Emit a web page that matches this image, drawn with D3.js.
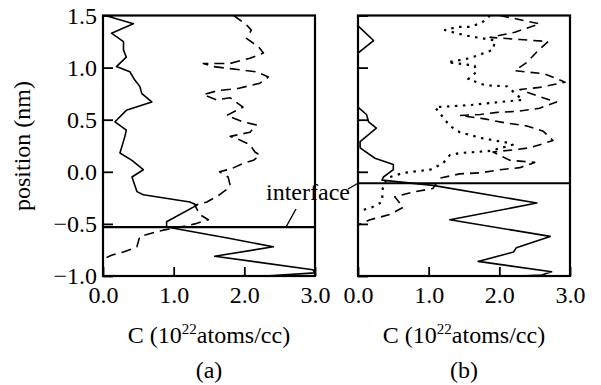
<!DOCTYPE html>
<html>
<head>
<meta charset="utf-8">
<script src="https://cdn.jsdelivr.net/npm/d3@7"></script>
<style>
  html, body { margin: 0; padding: 0; background: #fff; }
  svg text { font-family: "Liberation Serif", "Times New Roman", serif; fill: #000; }
</style>
</head>
<body>
<div id="chart"></div>
<script>
// Carbon concentration profiles across the interface, two cases side by side.
// Each series is [C (1e22 atoms/cc), position (nm)], read top to bottom.

const xTicks = [0, 1, 2, 3];
const yTicks = [-1, -0.5, 0, 0.5, 1, 1.5];
const panelLabels = ["(a)", "(b)"];
const interfaceA = -0.53;
const interfaceB = -0.11;

const aSolid = [
  [0.03, 1.50], [0.43, 1.42], [0.12, 1.33], [0.29, 1.25], [0.29, 1.17], [0.33, 1.10],
  [0.19, 1.01], [0.38, 0.96], [0.45, 0.88], [0.52, 0.82], [0.55, 0.75], [0.69, 0.67],
  [0.33, 0.59], [0.17, 0.48], [0.33, 0.40], [0.31, 0.34], [0.24, 0.18], [0.41, 0.11],
  [0.57, 0.02], [0.41, -0.05], [0.48, -0.19], [0.57, -0.22], [1.23, -0.29], [1.33, -0.32],
  [0.90, -0.48], [0.90, -0.53], [1.80, -0.64], [2.41, -0.72], [1.58, -0.81], [2.97, -0.94],
  [3.00, -0.97], [2.30, -1.00]
];
const aDashed = [
  [1.85, 1.50], [2.03, 1.41], [2.10, 1.36], [2.03, 1.28], [2.20, 1.20], [2.27, 1.14],
  [2.08, 1.09], [1.80, 1.04], [1.42, 1.04], [1.56, 1.01], [1.80, 0.99], [2.17, 0.96],
  [2.34, 0.91], [2.22, 0.85], [1.91, 0.80], [1.63, 0.78], [1.42, 0.74], [1.61, 0.69],
  [1.80, 0.71], [1.98, 0.62], [1.75, 0.54], [1.98, 0.48], [2.17, 0.45], [2.08, 0.38],
  [1.80, 0.34], [1.89, 0.32], [2.08, 0.26], [2.15, 0.19], [2.22, 0.16], [2.13, 0.11],
  [1.98, 0.08], [1.82, 0.03], [1.65, 0.00], [1.77, -0.05], [1.80, -0.13], [1.75, -0.17],
  [1.65, -0.22], [1.47, -0.29], [1.30, -0.32], [1.37, -0.41], [1.49, -0.46], [1.30, -0.50],
  [1.09, -0.53], [0.85, -0.56], [0.52, -0.62], [0.48, -0.72], [0.29, -0.77], [0.12, -0.80],
  [0.00, -0.84]
];

const bSolid = [
  [0.00, 1.50], [0.00, 1.40], [0.22, 1.26], [0.00, 1.14], [0.00, 0.62], [0.12, 0.55],
  [0.15, 0.48], [0.26, 0.42], [0.03, 0.29], [0.03, 0.23], [0.24, 0.13], [0.50, 0.07],
  [0.50, 0.02], [0.36, -0.05], [0.34, -0.08], [1.06, -0.13], [2.53, -0.30], [1.30, -0.46],
  [2.72, -0.62], [2.24, -0.73], [2.20, -0.77], [1.70, -0.86], [2.74, -0.96], [2.60, -0.99],
  [2.30, -1.00]
];
const bDashed = [
  [2.01, 1.50], [2.57, 1.42], [2.22, 1.34], [1.87, 1.29], [2.29, 1.27], [2.69, 1.25],
  [2.53, 1.15], [2.39, 1.05], [2.22, 0.97], [2.64, 0.94], [2.93, 0.86], [2.57, 0.81],
  [2.29, 0.79], [2.53, 0.73], [2.81, 0.67], [2.57, 0.61], [2.26, 0.58], [1.97, 0.57],
  [1.73, 0.55], [1.44, 0.54], [1.77, 0.51], [2.08, 0.47], [2.39, 0.44], [2.62, 0.39],
  [2.76, 0.30], [2.43, 0.23], [2.19, 0.21], [1.91, 0.19], [2.15, 0.11], [2.50, 0.09],
  [2.29, 0.04], [2.01, 0.02], [1.73, -0.01], [1.44, -0.02], [1.16, -0.06], [1.06, -0.16],
  [0.81, -0.19], [0.52, -0.24], [0.64, -0.34], [0.45, -0.41], [0.17, -0.46], [0.00, -0.51]
];
const bDotted = [
  [1.87, 1.50], [1.75, 1.43], [1.58, 1.39], [1.40, 1.39], [1.23, 1.36], [1.51, 1.31],
  [1.94, 1.26], [1.91, 1.17], [1.58, 1.09], [1.27, 1.05], [1.65, 1.02], [1.68, 0.96],
  [1.56, 0.89], [1.80, 0.83], [2.11, 0.82], [2.33, 0.69], [2.01, 0.67], [1.58, 0.64],
  [1.09, 0.62], [1.30, 0.44], [1.44, 0.38], [1.77, 0.32], [2.11, 0.28], [2.19, 0.26],
  [1.87, 0.20], [1.44, 0.18], [1.30, 0.16], [1.20, 0.08], [1.02, 0.02], [0.64, -0.01],
  [0.41, -0.06], [0.35, -0.16], [0.34, -0.29], [0.20, -0.34], [0.00, -0.38]
];

const W = 601, H = 385;
const yTop = 15.5, yBottom = 276;
const panels = [
  { left: 103, right: 315, label: panelLabels[0], iface: interfaceA,
    series: [{ d: aSolid, dash: null }, { d: aDashed, dash: "10,6" }] },
  { left: 358, right: 570, label: panelLabels[1], iface: interfaceB,
    series: [{ d: bSolid, dash: null }, { d: bDashed, dash: "9,6" }, { d: bDotted, dash: "2.5,5.5" }] }
];

const svg = d3.select("#chart").append("svg")
  .attr("width", W).attr("height", H).attr("viewBox", `0 0 ${W} ${H}`);

const y = d3.scaleLinear().domain([-1, 1.5]).range([yBottom, yTop]);
const fmt = d3.format(".1f");

panels.forEach((p, i) => {
  const x = d3.scaleLinear().domain([0, 3]).range([p.left, p.right]);
  const g = svg.append("g");

  // clip so that traces stay inside the frame
  g.append("clipPath").attr("id", `clip${i}`).append("rect")
    .attr("x", p.left).attr("y", yTop).attr("width", p.right - p.left).attr("height", yBottom - yTop);

  const line = d3.line().x((d) => x(d[0])).y((d) => y(d[1]));
  g.append("g").attr("clip-path", `url(#clip${i})`)
    .selectAll("path").data(p.series).join("path")
    .attr("fill", "none").attr("stroke", "#000")
    .attr("stroke-width", (s) => (s.dash && s.dash.startsWith("2.5") ? 2.2 : 1.6))
    .attr("stroke-dasharray", (s) => s.dash)
    .attr("stroke-linejoin", "round")
    .attr("d", (s) => line(s.d));

  // interface line
  g.append("line")
    .attr("x1", p.left).attr("x2", p.right).attr("y1", y(p.iface)).attr("y2", y(p.iface))
    .attr("stroke", "#000").attr("stroke-width", 2.2);

  // axes: inward ticks, frame drawn separately
  const ax = g.append("g").attr("transform", `translate(${p.left},0)`)
    .call(d3.axisLeft(y).tickValues(yTicks).tickSizeInner(-10).tickSizeOuter(0).tickPadding(6).tickFormat(fmt));
  if (i > 0) ax.selectAll("text").remove();
  const bx = g.append("g").attr("transform", `translate(0,${yBottom})`)
    .call(d3.axisBottom(x).tickValues(xTicks).tickSizeInner(-9).tickSizeOuter(0).tickPadding(10).tickFormat(fmt));
  [ax, bx].forEach((a) => {
    a.select(".domain").remove();
    a.selectAll("line").attr("stroke", "#000").attr("stroke-width", 1.8);
    a.selectAll("text").attr("font-size", 24).attr("font-family", "Liberation Serif");
  });

  g.append("rect")
    .attr("x", p.left).attr("y", yTop).attr("width", p.right - p.left).attr("height", yBottom - yTop)
    .attr("fill", "none").attr("stroke", "#000").attr("stroke-width", 2.2);

  const cx = (p.left + p.right) / 2;
  const t = g.append("text").attr("x", cx).attr("y", 343).attr("text-anchor", "middle").attr("font-size", 24);
  t.append("tspan").text("C (10");
  t.append("tspan").attr("font-size", 15).attr("dy", -9).text("22");
  t.append("tspan").attr("dy", 9).text("atoms/cc)");

  g.append("text").attr("x", cx).attr("y", 378).attr("text-anchor", "middle")
    .attr("font-size", 24).text(p.label);
});

svg.append("text")
  .attr("transform", "translate(30,146) rotate(-90)")
  .attr("text-anchor", "middle").attr("font-size", 24).text("position (nm)");

// interface label with its two leaders
svg.append("text").attr("x", 266).attr("y", 200).attr("font-size", 24).text("interface");
svg.append("line").attr("x1", 296).attr("y1", 209).attr("x2", 286).attr("y2", y(interfaceA))
  .attr("stroke", "#000").attr("stroke-width", 1.4);
svg.append("line").attr("x1", 348).attr("y1", 189).attr("x2", 358).attr("y2", y(interfaceB))
  .attr("stroke", "#000").attr("stroke-width", 1.4);
</script>
</body>
</html>
